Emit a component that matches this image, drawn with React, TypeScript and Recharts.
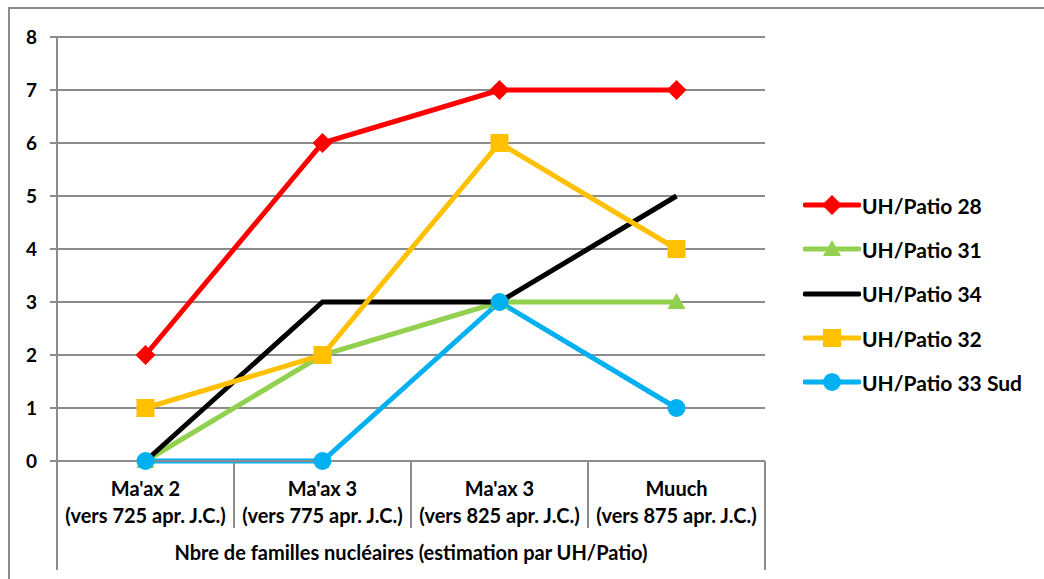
import React from "react";
import { LineChart, Line, XAxis, YAxis, CartesianGrid, Legend } from "recharts";

const periodNames = ["Ma'ax 2", "Ma'ax 3", "Ma'ax 3", "Muuch"];
const periodDates = [
  "(vers 725 apr. J.C.)",
  "(vers 775 apr. J.C.)",
  "(vers 825 apr. J.C.)",
  "(vers 875 apr. J.C.)",
];
const patio28 = [2, 6, 7, 7];
const patio31 = [0, 2, 3, 3];
const patio34 = [0, 3, 3, 5];
const patio32 = [1, 2, 6, 4];
const patio33Sud = [0, 0, 3, 1];
const yTicks = [0, 1, 2, 3, 4, 5, 6, 7, 8];
const axisTitle = "Nbre de familles nucléaires (estimation par UH/Patio)";

const data = periodNames.map((n, i) => ({
  key: String(i),
  p28: patio28[i],
  p31: patio31[i],
  p34: patio34[i],
  p32: patio32[i],
  p33: patio33Sud[i],
}));

const series = [
  { key: "p28", name: "UH/Patio 28", color: "#FF0000", marker: "diamond" },
  { key: "p31", name: "UH/Patio 31", color: "#92D050", marker: "triangle" },
  { key: "p34", name: "UH/Patio 34", color: "#000000", marker: "none" },
  { key: "p32", name: "UH/Patio 32", color: "#FFC000", marker: "square" },
  { key: "p33", name: "UH/Patio 33 Sud", color: "#00B0F0", marker: "circle" },
];

const FONT = "Lato, 'Open Sans', sans-serif";
const GRID = "#8c8c8c";
const W = 1044;
const H = 579;
const MARGIN = { top: 37, right: 279, bottom: 0, left: 7 };
const Y_W = 50;
const X_H = 118;
const PLOT_W = W - MARGIN.left - Y_W - MARGIN.right;
const BAND = PLOT_W / periodNames.length;
const CAT_FS = 20;

function markerShape(type: string, cx: number, cy: number, color: string, key?: string) {
  if (type === "diamond") {
    const r = 10;
    return <polygon key={key} points={`${cx},${cy - r} ${cx + r},${cy} ${cx},${cy + r} ${cx - r},${cy}`} fill={color} />;
  }
  if (type === "triangle") {
    return <polygon key={key} points={`${cx},${cy - 9} ${cx + 9},${cy + 7} ${cx - 9},${cy + 7}`} fill={color} />;
  }
  if (type === "square") {
    return <rect key={key} x={cx - 9} y={cy - 9} width={18} height={18} fill={color} />;
  }
  if (type === "circle") {
    return <circle key={key} cx={cx} cy={cy} r={9} fill={color} />;
  }
  return <g key={key} />;
}

const makeDot = (type: string, color: string) => (props: any) =>
  markerShape(type, props.cx, props.cy, color, `dot-${props.index}`);

const CategoryTick = (props: any) => {
  const { x, y, index } = props;
  const half = BAND / 2;
  const last = index === periodNames.length - 1;
  return (
    <g>
      {index === 0 && (
        <line x1={x - half} y1={y} x2={x - half} y2={y + 109} stroke={GRID} strokeWidth={2} />
      )}
      <line x1={x + half} y1={y} x2={x + half} y2={y + (last ? 109 : 67)} stroke={GRID} strokeWidth={2} />
      <text x={x} y={y + 35} textAnchor="middle" fontFamily={FONT} fontWeight={700} fontSize={CAT_FS} fill="#000">
        {periodNames[index]}
      </text>
      <text x={x} y={y + 62} textAnchor="middle" fontFamily={FONT} fontWeight={700} fontSize={CAT_FS} fill="#000">
        {periodDates[index]}
      </text>
    </g>
  );
};

const AxisTitle = (props: any) => {
  const vb = props.viewBox || {};
  return (
    <text
      x={vb.x + vb.width / 2}
      y={vb.y + 99}
      textAnchor="middle"
      fontFamily={FONT}
      fontWeight={700}
      fontSize={CAT_FS}
      fill="#000"
    >
      {axisTitle}
    </text>
  );
};

const LegendContent = () => (
  <div style={{ fontFamily: FONT, fontWeight: 700, fontSize: 21, color: "#000" }}>
    {series.map((s) => (
      <div key={s.key} style={{ display: "flex", alignItems: "center", height: 44.3 }}>
        <svg width={58} height={24} style={{ display: "block" }}>
          <line x1={2} y1={12} x2={56} y2={12} stroke={s.color} strokeWidth={5} strokeLinecap="round" />
          {markerShape(s.marker, 29, 12, s.color)}
        </svg>
        <span style={{ marginLeft: 1, whiteSpace: "nowrap" }}>{s.name}</span>
      </div>
    ))}
  </div>
);

export default function App() {
  return (
    <div
      style={{
        position: "absolute",
        left: 0,
        top: 0,
        width: W,
        height: H,
        background: "#fff",
      }}
    >
      <div
        style={{
          position: "absolute",
          left: 8,
          top: 7,
          width: W - 8,
          height: H - 7,
          borderLeft: "2px solid #8c8c8c",
          borderTop: "2px solid #8c8c8c",
          boxSizing: "border-box",
        }}
      />
      <div style={{ position: "absolute", left: 0, top: 0 }}>
        <LineChart width={W} height={H} data={data} margin={MARGIN}>
          <CartesianGrid horizontal vertical={false} stroke={GRID} strokeWidth={2} />
          <XAxis
            dataKey="key"
            scale="band"
            height={X_H}
            tickLine={false}
            tickSize={0}
            tickMargin={0}
            axisLine={{ stroke: GRID, strokeWidth: 2 }}
            tick={<CategoryTick />}
            interval={0}
            label={<AxisTitle />}
          />
          <YAxis
            width={Y_W}
            domain={[0, 8]}
            ticks={yTicks}
            interval={0}
            tickSize={7}
            tickMargin={13}
            axisLine={{ stroke: GRID, strokeWidth: 2 }}
            tickLine={{ stroke: GRID, strokeWidth: 2 }}
            tick={{ fontFamily: FONT, fontWeight: 700, fontSize: 19, fill: "#000" }}
          />
          <Legend
            layout="vertical"
            align="center"
            verticalAlign="middle"
            content={<LegendContent />}
            wrapperStyle={{ left: 803, top: 183, width: 240 }}
          />
          {series.map((s) => (
            <Line
              key={s.key}
              type="linear"
              dataKey={s.key}
              name={s.name}
              stroke={s.color}
              strokeWidth={5}
              dot={s.marker === "none" ? false : makeDot(s.marker, s.color)}
              activeDot={false}
              isAnimationActive={false}
            />
          ))}
        </LineChart>
      </div>
    </div>
  );
}
